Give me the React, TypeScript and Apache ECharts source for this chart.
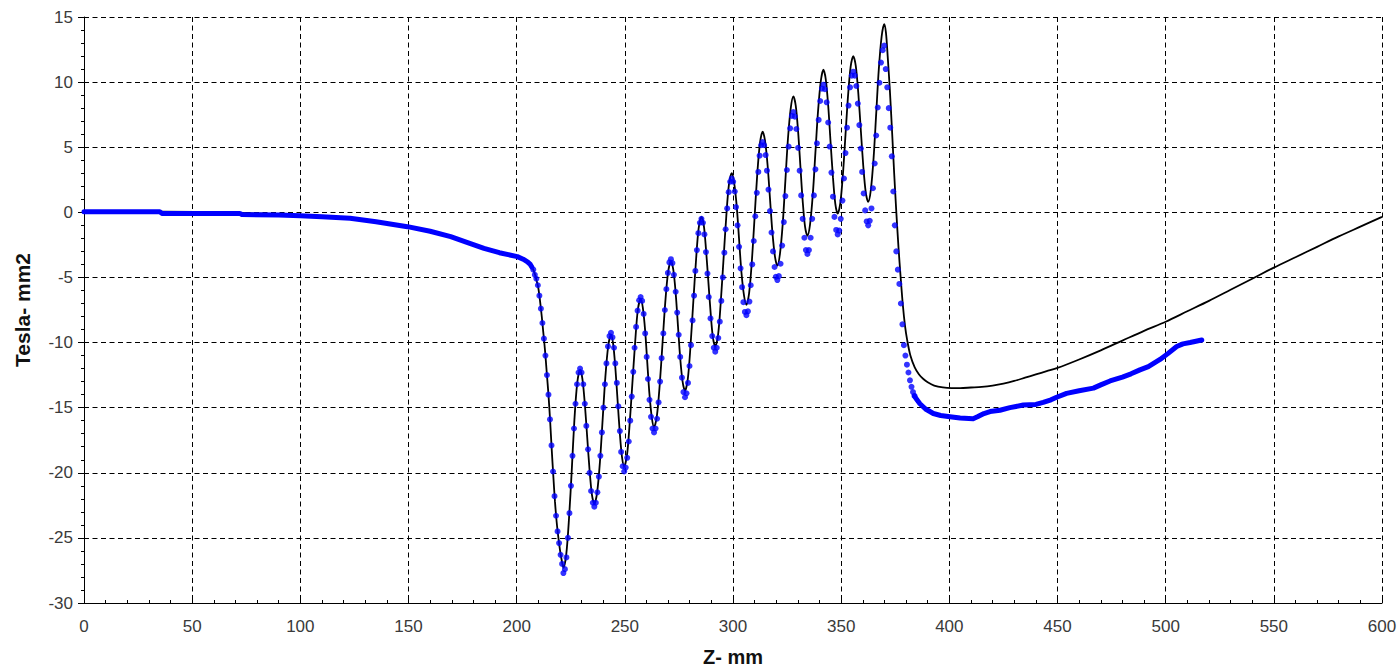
import React, { useEffect, useRef } from "react";
import * as echarts from "echarts";

// Calculated (model) curve, black line: [Z mm, Tesla-mm2]
const modelCurve: [number, number][] = [
  [0, 0.05], [35, 0.05], [72, -0.05], [100, -0.25], [123, -0.46], [149.5, -1.1], [169.5, -1.87],
  [184.9, -2.77], [200.3, -3.4], [203, -3.6], [205, -3.8], [207, -4.2], [207.7, -4.4], [208.5, -4.8],
  [209.3, -5.3], [210, -5.8], [210.8, -6.8], [211.6, -8.0], [212.3, -9.2], [213.1, -10.6], [213.9, -12.3],
  [214.7, -14.0], [215.5, -16.1], [216.2, -18.2], [217, -20.4], [217.7, -22.2], [218.5, -23.8],
  [219.3, -25.0], [220, -25.9], [220.8, -26.7], [221.6, -27.3],
  [222.9, -26.3], [224.2, -23.5], [225.5, -19.7], [226.7, -15.9], [228.0, -13.1], [229.3, -12.1],
  [230.4, -12.8], [231.5, -14.7], [232.6, -17.25], [233.7, -19.8], [234.8, -21.7], [235.9, -22.4],
  [237.2, -21.5], [238.5, -19.15], [239.75, -15.9], [241.0, -12.65], [242.3, -10.3], [243.6, -9.4],
  [244.6, -10.1], [245.6, -11.9], [246.65, -14.45], [247.7, -17.0], [248.7, -18.8], [249.7, -19.5],
  [251.0, -18.64], [252.2, -16.3], [253.5, -13.1], [254.8, -9.9], [256.0, -7.5], [257.3, -6.65],
  [258.3, -7.3], [259.4, -9.1], [260.4, -11.6], [261.4, -14.0], [262.5, -15.8], [263.5, -16.5],
  [264.8, -15.65], [266.1, -13.3], [267.4, -10.1], [268.7, -6.9], [270.0, -4.6], [271.3, -3.75],
  [272.4, -4.4], [273.5, -6.2], [274.55, -8.7], [275.6, -11.2], [276.7, -13.0], [277.8, -13.7],
  [279.1, -12.8], [280.3, -10.4], [281.6, -7.0], [282.9, -3.7], [284.1, -1.25], [285.4, -0.35],
  [286.5, -1.0], [287.5, -2.8], [288.6, -5.3], [289.7, -7.8], [290.7, -9.6], [291.8, -10.3],
  [293.1, -9.4], [294.3, -7.0], [295.6, -3.65], [296.9, -0.3], [298.1, 2.1], [299.4, 3.0],
  [300.5, 2.3], [301.7, 0.5], [302.8, -2.05], [303.9, -4.6], [305.1, -6.4], [306.2, -7.1],
  [307.45, -6.2], [308.7, -3.8], [309.95, -0.45], [311.2, 2.9], [312.45, 5.3], [313.7, 6.2],
  [314.8, 5.5], [316.0, 3.6], [317.1, 1.05], [318.2, -1.5], [319.4, -3.4], [320.5, -4.1],
  [321.7, -3.2], [323.0, -0.85], [324.2, 2.4], [325.4, 5.65], [326.7, 8.0], [327.9, 8.9],
  [329.0, 8.2], [330.1, 6.2], [331.15, 3.55], [332.2, 0.9], [333.3, -1.1], [334.4, -1.8],
  [335.6, -0.95], [336.9, 1.4], [338.1, 4.6], [339.3, 7.75], [340.6, 10.1], [341.8, 10.95],
  [342.9, 10.2], [344.0, 8.2], [345.1, 5.4], [346.2, 2.7], [347.3, 0.65], [348.4, -0.1],
  [349.6, 0.7], [350.8, 2.9], [352.0, 5.95], [353.2, 9.0], [354.4, 11.2], [355.6, 12.0],
  [356.75, 11.25], [357.9, 9.2], [359.05, 6.4], [360.2, 3.6], [361.35, 1.55], [362.5, 0.8],
  [363.7, 1.7], [365.0, 4.2], [366.2, 7.6], [367.4, 11.0], [368.7, 13.5], [369.9, 14.45],
  [370.7, 13.8], [371.5, 12.0], [372.5, 9.4], [373.5, 6.3], [374.5, 3.0], [375.5, 0.0], [376.5, -2.7],
  [377.5, -5.0], [378.5, -7.1], [379.5, -8.7], [380.5, -9.8], [382, -11.0], [384, -11.9], [386, -12.45],
  [388, -12.8], [390, -13.05], [393, -13.3], [397, -13.45], [401, -13.5], [405, -13.5], [410, -13.45],
  [415, -13.4], [420, -13.3], [425, -13.15], [430, -12.95], [435, -12.7], [440, -12.45], [445, -12.2],
  [450, -11.95], [460, -11.3], [470, -10.6], [480, -9.85], [490, -9.1], [500, -8.4], [510, -7.6],
  [520, -6.8], [530, -5.95], [540, -5.1], [550, -4.25], [560, -3.45], [570, -2.65], [580, -1.85],
  [590, -1.1], [600, -0.35],
];

// Measured data, dense part before the undulator (drawn as a thick blue trace)
const measuredEntry: [number, number][] = [
  [0, 0.05], [35, 0.05], [36, -0.08], [72, -0.08], [73, -0.17], [90, -0.2], [100, -0.26], [110, -0.34],
  [123, -0.46], [135, -0.72], [149.5, -1.1], [160, -1.45], [169.5, -1.87], [177, -2.3], [184.9, -2.77],
  [192, -3.1], [200.3, -3.4], [203, -3.6], [205, -3.8], [206.3, -4.0], [207, -4.2],
];

// Measured data, individual points through the oscillating region
const measuredPoints: [number, number][] = [
  [207.7, -4.4], [208.4, -4.8], [209.1, -5.1], [209.8, -5.6], [210.5, -6.4], [211.2, -7.4], [211.9, -8.5],
  [212.6, -9.7], [213.3, -11.0], [214.0, -12.5], [214.7, -14.0], [215.4, -15.9], [216.1, -17.9],
  [216.8, -19.9], [217.5, -21.8], [218.2, -23.3], [218.9, -24.5], [219.6, -25.4], [220.3, -26.3],
  [221.0, -27.0], [221.6, -27.7],
  [222.3, -27.4], [223.0, -26.5], [223.7, -25.0], [224.4, -23.1], [225.1, -21.0], [225.8, -18.7],
  [226.5, -16.6], [227.2, -14.7], [227.9, -13.2], [228.6, -12.3], [229.3, -12.0],
  [230.0, -12.3], [230.8, -13.2], [231.5, -14.7], [232.2, -16.4], [233.0, -18.2], [233.7, -20.0],
  [234.4, -21.4], [235.2, -22.3], [235.9, -22.6],
  [236.6, -22.3], [237.3, -21.5], [238.0, -20.3], [238.7, -18.7], [239.4, -16.9], [240.1, -15.0],
  [240.8, -13.2], [241.5, -11.6], [242.2, -10.3], [242.9, -9.5], [243.6, -9.25],
  [244.3, -9.6], [245.0, -10.4], [245.6, -11.6], [246.3, -13.1], [247.0, -14.9], [247.7, -16.8],
  [248.3, -18.4], [249.0, -19.5], [249.7, -19.9],
  [250.4, -19.6], [251.1, -18.85], [251.8, -17.6], [252.5, -16.0], [253.2, -14.15], [253.9, -12.25],
  [254.5, -10.4], [255.2, -8.8], [255.9, -7.55], [256.6, -6.75], [257.3, -6.5],
  [258.0, -6.8], [258.7, -7.8], [259.4, -9.3], [260.1, -11.1], [260.7, -12.8], [261.4, -14.4],
  [262.1, -15.7], [262.8, -16.6], [263.5, -16.9],
  [264.2, -16.6], [264.9, -15.85], [265.6, -14.6], [266.3, -13.0], [267.0, -11.2], [267.8, -9.3],
  [268.5, -7.5], [269.2, -5.9], [269.9, -4.65], [270.6, -3.85], [271.3, -3.6],
  [272.0, -3.9], [272.7, -4.8], [273.5, -6.1], [274.2, -7.7], [274.9, -9.4], [275.6, -11.1],
  [276.4, -12.7], [277.1, -13.8], [277.8, -14.2],
  [278.5, -13.9], [279.2, -13.1], [279.9, -11.8], [280.6, -10.2], [281.3, -8.3], [282.0, -6.4],
  [282.6, -4.5], [283.3, -2.9], [284.0, -1.6], [284.7, -0.8], [285.4, -0.5],
  [286.1, -0.8], [286.8, -1.7], [287.5, -3.05], [288.2, -4.7], [288.8, -6.5], [289.6, -8.15],
  [290.4, -9.5], [291.1, -10.4], [291.8, -10.7],
  [292.5, -10.4], [293.2, -9.65], [293.9, -8.4], [294.6, -6.8], [295.3, -5.0], [296.0, -3.1],
  [296.6, -1.3], [297.3, 0.3], [298.0, 1.55], [298.7, 2.35], [299.4, 2.6],
  [300.1, 2.35], [300.8, 1.6], [301.4, 0.4], [302.1, -1.0], [302.8, -2.65], [303.5, -4.3],
  [304.2, -5.75], [304.8, -6.9], [305.5, -7.65], [306.2, -7.9],
  [306.9, -7.6], [307.6, -6.85], [308.2, -5.6], [308.9, -4.0], [309.6, -2.2], [310.3, -0.3],
  [311.0, 1.5], [311.7, 3.1], [312.3, 4.35], [313.0, 5.15], [313.7, 5.4],
  [314.4, 5.15], [315.1, 4.4], [315.7, 3.2], [316.4, 1.75], [317.1, 0.1], [317.8, -1.55],
  [318.5, -3.0], [319.2, -4.2], [319.8, -4.95], [320.5, -5.2],
  [321.2, -4.9], [322.0, -3.95], [322.7, -2.55], [323.5, -0.75], [324.2, 1.25], [324.9, 3.25],
  [325.7, 5.05], [326.4, 6.45], [327.2, 7.4], [327.9, 7.7],
  [328.6, 7.35], [329.3, 6.4], [330.1, 4.95], [330.8, 3.2], [331.5, 1.3], [332.2, -0.5],
  [333.0, -1.95], [333.7, -2.9], [334.4, -3.2],
  [335.1, -2.9], [335.9, -1.95], [336.6, -0.5], [337.4, 1.3], [338.1, 3.3], [338.8, 5.3],
  [339.6, 7.1], [340.3, 8.55], [341.1, 9.5], [341.8, 9.8],
  [342.5, 9.45], [343.3, 8.45], [344.0, 6.9], [344.7, 5.05], [345.5, 3.05], [346.2, 1.2],
  [346.9, -0.35], [347.7, -1.35], [348.4, -1.7],
  [349.1, -1.4], [349.8, -0.5], [350.6, 0.9], [351.3, 2.6], [352.0, 4.55], [352.7, 6.5],
  [353.4, 8.2], [354.1, 9.6], [354.9, 10.5], [355.6, 10.8],
  [356.3, 10.5], [357.0, 9.7], [357.7, 8.35], [358.4, 6.7], [359.1, 4.9], [359.7, 3.1],
  [360.4, 1.45], [361.1, 0.15], [361.8, -0.7], [362.5, -1.0],
  [363.2, -0.65], [364.0, 0.3], [364.7, 1.85], [365.5, 3.75], [366.2, 5.9], [366.9, 8.05],
  [367.7, 9.95], [368.4, 11.5], [369.2, 12.45], [369.9, 12.8],
  [370.6, 11.0], [371.3, 9.6], [372.0, 8.0], [372.7, 6.5], [373.4, 4.3], [374.1, 1.6], [374.8, -1.0],
  [375.5, -3.0], [376.2, -4.4], [376.9, -5.5], [377.6, -7.0], [378.3, -8.6], [379.0, -10.2],
  [379.7, -11.0], [380.4, -11.7], [381.1, -12.3], [381.8, -12.9], [382.5, -13.4], [383.2, -13.8],
  [383.9, -14.1],
];

// Measured data, dense part after the undulator (thick blue trace)
const measuredExit: [number, number][] = [
  [383.9, -14.1], [384.6, -14.3], [386.4, -14.7], [389, -15.1], [392.6, -15.45], [396, -15.6],
  [400.3, -15.7], [405, -15.8], [411, -15.85], [413, -15.7], [416, -15.45], [418.8, -15.3],
  [423.4, -15.2], [428, -15.0], [434.2, -14.8], [440, -14.75], [443.4, -14.6], [447, -14.4],
  [449.6, -14.2], [454.2, -13.9], [460, -13.7], [466.6, -13.5], [470, -13.25], [474.3, -12.95],
  [480, -12.65], [484, -12.4], [488.1, -12.1], [492, -11.85], [497.4, -11.3], [501, -10.85],
  [505.1, -10.3], [508, -10.1], [511.3, -10.0], [514, -9.9], [516.7, -9.8],
];

const X_MIN = 0;
const X_MAX = 600;
const X_STEP = 50;
const Y_MIN = -30;
const Y_MAX = 15;
const Y_STEP = 5;
const X_NAME = "Z- mm";
const Y_NAME = "Tesla- mm2";

const FONT = "'Liberation Sans', Arial, sans-serif";
const BLUE = "#0000ff";
const GRID_DASH = [5, 3.5];

export default function App() {
  const ref = useRef<HTMLDivElement>(null);

  useEffect(() => {
    if (!ref.current) return;
    const chart = echarts.init(ref.current, undefined, { renderer: "svg" });
    chart.setOption({
      animation: false,
      backgroundColor: "#ffffff",
      grid: { left: 84, right: 17, top: 17, bottom: 67, containLabel: false, outerBoundsMode: "none" },
      xAxis: {
        type: "value",
        min: X_MIN,
        max: X_MAX,
        interval: X_STEP,
        name: X_NAME,
        nameLocation: "middle",
        nameGap: 46,
        nameTextStyle: { fontFamily: FONT, fontSize: 20, lineHeight: 16, fontWeight: "bold", color: "#111" },
        axisLine: { onZero: false, lineStyle: { color: "#000", width: 1 } },
        axisTick: { show: true, inside: true, length: 4, lineStyle: { color: "#000" } },
        minorTick: { show: true, splitNumber: 5, length: 3, lineStyle: { color: "#000" } },
        axisLabel: { fontFamily: FONT, fontSize: 17, color: "#3a3a3a", margin: 15 },
        splitLine: { show: true, lineStyle: { color: "#000", width: 1, type: GRID_DASH } },
      },
      yAxis: {
        type: "value",
        min: Y_MIN,
        max: Y_MAX,
        interval: Y_STEP,
        name: Y_NAME,
        nameLocation: "middle",
        nameGap: 51,
        nameTextStyle: { fontFamily: FONT, fontSize: 21, fontWeight: "bold", color: "#111" },
        axisLine: { onZero: false, lineStyle: { color: "#000", width: 1 } },
        axisTick: { show: true, inside: false, length: 6, lineStyle: { color: "#000" } },
        minorTick: { show: true, splitNumber: 5, length: 3, lineStyle: { color: "#000" } },
        axisLabel: { fontFamily: FONT, fontSize: 17, color: "#3a3a3a", margin: 11 },
        splitLine: { show: true, lineStyle: { color: "#000", width: 1, type: GRID_DASH } },
      },
      series: [
        {
          type: "line",
          data: modelCurve,
          showSymbol: false,
          smooth: 0.3,
          lineStyle: { color: "#000", width: 1.8 },
          z: 2,
        },
        {
          type: "line",
          data: measuredEntry,
          showSymbol: false,
          lineStyle: { color: BLUE, width: 5, cap: "round", join: "round" },
          z: 3,
        },
        {
          type: "scatter",
          data: measuredPoints,
          symbol: "circle",
          symbolSize: 6,
          itemStyle: { color: BLUE },
          z: 3,
        },
        {
          type: "line",
          data: measuredExit,
          showSymbol: false,
          lineStyle: { color: BLUE, width: 5, cap: "round", join: "round" },
          z: 3,
        },
      ],
    });
    return () => chart.dispose();
  }, []);

  return (
    <div
      ref={ref}
      style={{ position: "fixed", left: 0, top: 0, width: 1399, height: 670, background: "#fff" }}
    />
  );
}
